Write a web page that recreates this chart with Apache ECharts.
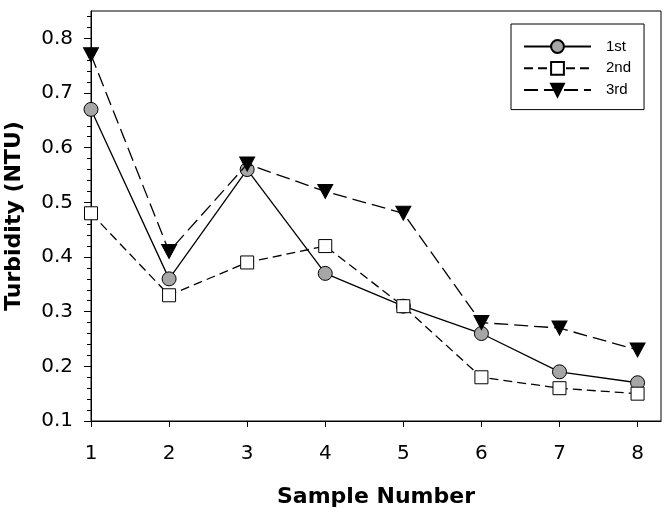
<!DOCTYPE html>
<html>
<head>
<meta charset="utf-8">
<script src="https://cdn.jsdelivr.net/npm/echarts@6/dist/echarts.min.js"></script>
<style>html,body{margin:0;padding:0;background:#fff}#c{width:671px;height:515px}</style>
</head>
<body>
<div id="c"></div>
<script>
var samples = [1, 2, 3, 4, 5, 6, 7, 8];
var first  = [0.67, 0.36, 0.56, 0.37, 0.31, 0.26, 0.19, 0.17];
var second = [0.48, 0.33, 0.39, 0.42, 0.31, 0.18, 0.16, 0.15];
var third  = [0.77, 0.41, 0.57, 0.52, 0.48, 0.28, 0.27, 0.23];
var yTicks = [0.1, 0.2, 0.3, 0.4, 0.5, 0.6, 0.7, 0.8];
var yMinor = [];
for (var i = 0; i <= 37; i++) yMinor.push(+(0.1 + i * 0.02).toFixed(2));

function pairs(v) { return samples.map(function (s, i) { return [s, v[i]]; }); }

var font = 'Liberation Sans, Arial, sans-serif';
var axFont = 'DejaVu Sans, sans-serif';
var chart = echarts.init(document.getElementById('c'), null, {renderer: 'canvas'});
chart.setOption({
  animation: false,
  grid: {left: 91, top: 11, right: 10, bottom: 94, show: true, borderColor: '#000', borderWidth: 1,
    outerBoundsMode: 'none', containLabel: false},
  legend: {
    orient: 'vertical', left: 511, top: 24,
    borderColor: '#000', borderWidth: 1,
    padding: [15, 13, 12, 12],
    itemWidth: 67, itemHeight: 16, itemGap: 6.8,
    textStyle: {fontFamily: font, fontSize: 15, color: '#000', padding: [0, 0, 0, 10]},
    data: ['1st', '2nd', '3rd']
  },
  xAxis: {
    type: 'value', min: 1, max: 8.3, interval: 1,
    name: 'Sample Number', nameLocation: 'middle', nameGap: 65,
    nameTextStyle: {fontFamily: axFont, fontSize: 22, fontWeight: 'bold', color: '#000'},
    axisLine: {lineStyle: {color: '#000', width: 1}},
    axisTick: {show: true, inside: false, length: 6, lineStyle: {color: '#000'}, customValues: samples},
    axisLabel: {fontFamily: axFont, fontSize: 20, color: '#000', margin: 23, customValues: samples},
    splitLine: {show: false}
  },
  yAxis: [{
    type: 'value', min: 0.1, max: 0.85, interval: 0.1,
    name: 'Turbidity (NTU)', nameLocation: 'middle', nameGap: 66,
    nameTextStyle: {fontFamily: axFont, fontSize: 22, fontWeight: 'bold', color: '#000'},
    axisLine: {show: true, lineStyle: {color: '#000', width: 1}},
    axisTick: {show: true, inside: false, length: 7, lineStyle: {color: '#000'}, customValues: yTicks},
    axisLabel: {fontFamily: axFont, fontSize: 20, color: '#000', margin: 18, customValues: yTicks,
      formatter: function (v) { return v.toFixed(1); }},
    splitLine: {show: false}
  }, {
    type: 'value', min: 0.1, max: 0.85, position: 'left',
    axisLine: {show: false},
    axisTick: {show: true, inside: false, length: 4, lineStyle: {color: '#000'}, customValues: yMinor},
    axisLabel: {show: false},
    splitLine: {show: false}
  }],
  series: [{
    name: '1st', type: 'line', data: pairs(first),
    symbol: 'circle', symbolSize: 14,
    lineStyle: {color: '#000', width: 1.3, type: 'solid'},
    itemStyle: {color: '#a6a6a6', borderColor: '#000', borderWidth: 1},
    z: 2
  }, {
    name: '2nd', type: 'line', data: pairs(second),
    symbol: 'rect', symbolSize: 13,
    lineStyle: {color: '#000', width: 1.3, type: [9, 5]},
    itemStyle: {color: '#fff', borderColor: '#000', borderWidth: 1},
    z: 3
  }, {
    name: '3rd', type: 'line', data: pairs(third),
    symbol: 'triangle', symbolRotate: 180, symbolSize: [15, 14],
    lineStyle: {color: '#000', width: 1.3, type: [14, 6]},
    itemStyle: {color: '#000', borderColor: '#000', borderWidth: 1},
    z: 4
  }]
});
</script>
</body>
</html>
